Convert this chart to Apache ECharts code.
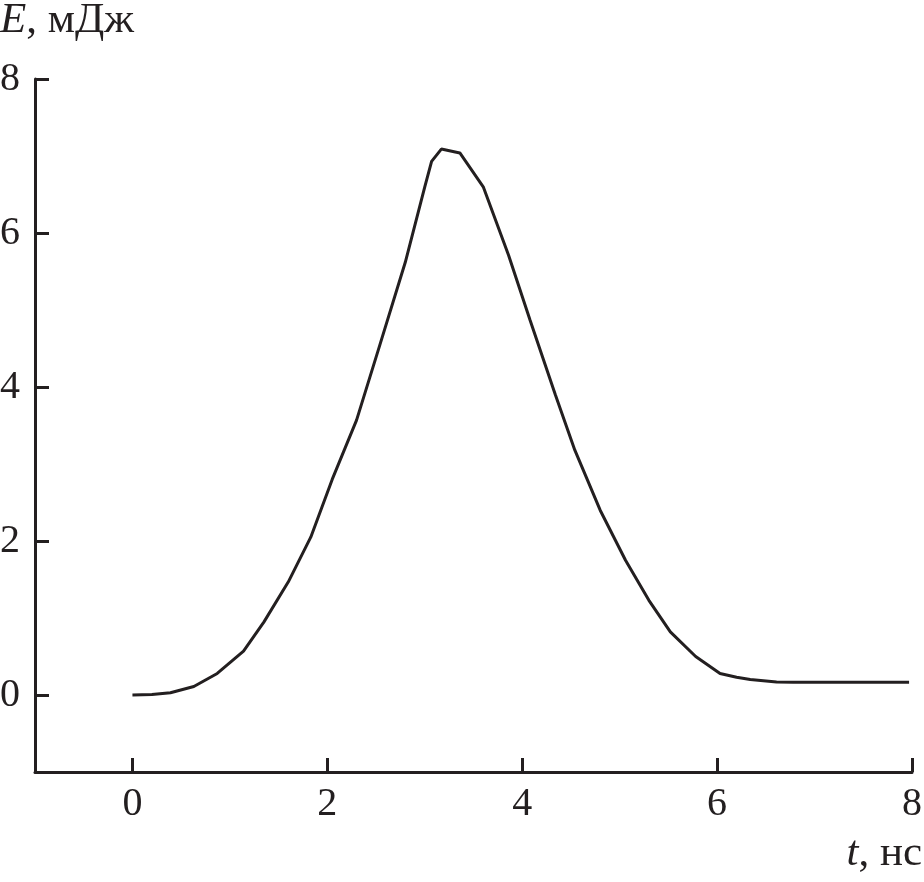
<!DOCTYPE html>
<html>
<head>
<meta charset="utf-8">
<script src="https://cdn.jsdelivr.net/npm/echarts@6/dist/echarts.min.js"></script>
<style>
html,body{margin:0;padding:0;background:#fff;}
#chart{width:924px;height:882px;}
</style>
</head>
<body>
<div id="chart"></div>
<script>
const tValues = [0, 0.2, 0.39, 0.63, 0.87, 1.14, 1.35, 1.6, 1.83, 2.05, 2.3, 2.54, 2.8, 3.0, 3.07, 3.17, 3.36, 3.6, 3.86, 4.08, 4.34, 4.54, 4.8, 5.06, 5.3, 5.52, 5.78, 6.03, 6.2, 6.34, 6.61, 6.78, 7.2, 7.97];
const eValues = [0, 0.005, 0.03, 0.11, 0.28, 0.57, 0.95, 1.47, 2.05, 2.8, 3.57, 4.55, 5.62, 6.6, 6.93, 7.09, 7.04, 6.6, 5.71, 4.87, 3.9, 3.18, 2.4, 1.75, 1.23, 0.82, 0.5, 0.28, 0.23, 0.2, 0.17, 0.165, 0.165, 0.165];
const xTicks = [0, 2, 4, 6, 8];
const yTicks = [0, 2, 4, 6, 8];
const yTitle = 'E';
const yUnit = ', мДж';
const xTitle = 't';
const xUnit = ', нс';

const ink = '#231f20';
const font = 'Liberation Serif, Times New Roman, serif';
const chart = echarts.init(document.getElementById('chart'), null, {renderer: 'canvas'});

const axisCommon = {
  type: 'value', min: -1, max: 8, interval: 1,
  splitLine: {show: false},
  axisLine: {show: true, onZero: false, lineStyle: {color: ink, width: 3}},
  axisTick: {show: true, inside: true, length: 14, customValues: null, lineStyle: {color: ink, width: 3}},
  axisLabel: {show: true, color: ink, fontFamily: font, fontSize: 40, customValues: null}
};

chart.setOption({
  animation: false,
  backgroundColor: '#fff',
  grid: {left: 35, right: 12, top: 79, bottom: 110, containLabel: false, outerBoundsMode: 'none'},
  xAxis: Object.assign({}, axisCommon, {
    axisTick: Object.assign({}, axisCommon.axisTick, {customValues: xTicks}),
    axisLabel: Object.assign({}, axisCommon.axisLabel, {customValues: xTicks, margin: 12})
  }),
  yAxis: Object.assign({}, axisCommon, {
    axisTick: Object.assign({}, axisCommon.axisTick, {customValues: yTicks}),
    axisLabel: Object.assign({}, axisCommon.axisLabel, {customValues: yTicks, margin: 15})
  }),
  graphic: [
    {type: 'text', left: 0, top: -1, style: {
      text: '{i|' + yTitle + '}{n|' + yUnit + '}',
      rich: {
        i: {fontFamily: font, fontStyle: 'italic', fontSize: 43, fill: ink},
        n: {fontFamily: font, fontSize: 43, fill: ink}
      }
    }},
    {type: 'text', right: 2, top: 832, style: {
      text: '{i|' + xTitle + '}{n|' + xUnit + '}',
      rich: {
        i: {fontFamily: font, fontStyle: 'italic', fontSize: 43, fill: ink},
        n: {fontFamily: font, fontSize: 43, fill: ink}
      }
    }}
  ],
  series: [{
    type: 'line',
    data: tValues.map((t, i) => [t, eValues[i]]),
    smooth: false,
    showSymbol: false,
    lineStyle: {color: ink, width: 3},
    z: 3
  }]
});
</script>
</body>
</html>
